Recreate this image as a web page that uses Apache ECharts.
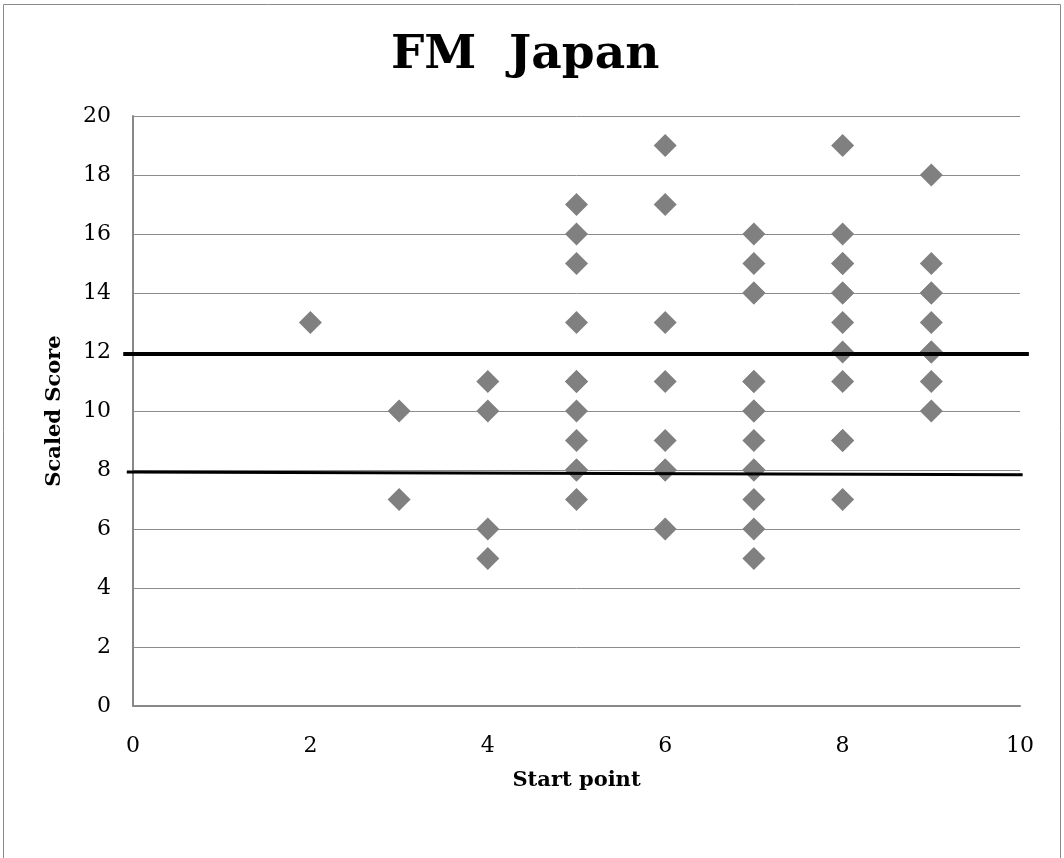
<!DOCTYPE html>
<html>
<head>
<meta charset="utf-8">
<script src="https://cdn.jsdelivr.net/npm/echarts@6/dist/echarts.min.js"></script>
<style>html,body{margin:0;padding:0;background:#fff}#c{width:1064px;height:858px}</style>
</head>
<body>
<div id="c"></div>
<script>
// Start point (x) and Scaled Score (y) for each observation
const startPoint = [2, 3,3, 4,4,4,4, 5,5,5,5,5,5,5,5,5,5,5, 6,6,6,6,6,6,6,6, 7,7,7,7,7,7,7,7,7,7,7,7,7,7, 8,8,8,8,8,8,8,8,8,8,8,8, 9,9,9,9,9,9,9,9,9];
const scaledScore = [13, 10,7, 11,10,6,5, 17,16,15,13,11,11,10,9,8,8,7, 19,17,13,11,9,8,8,6, 16,15,14,14,11,11,10,10,9,8,8,7,6,5, 19,16,15,15,14,14,13,12,11,9,9,7, 18,15,14,14,13,12,12,11,10];
// Reference lines (drawn shapes in the original)
const upperLineX = [-0.11, 10.1];
const upperLineY = [11.93, 11.93];
const lowerLineX = [-0.07, 10.03];
const lowerLineY = [7.93, 7.84];
const xTicks = {min: 0, max: 10, interval: 2};
const yTicks = {min: 0, max: 20, interval: 2};

const FONT = '"DejaVu Serif", serif';
function segment(xs, ys, width) {
  return {
    type: 'custom', clip: false, z: 4, silent: true,
    data: [[xs[0], ys[0], xs[1], ys[1]]],
    renderItem: function (params, api) {
      const p1 = api.coord([api.value(0), api.value(1)]);
      const p2 = api.coord([api.value(2), api.value(3)]);
      return {type: 'line', shape: {x1: p1[0], y1: p1[1], x2: p2[0], y2: p2[1]},
              style: {stroke: '#000', lineWidth: width}};
    }
  };
}
const chart = echarts.init(document.getElementById('c'), null, {renderer: 'canvas'});
chart.setOption({
  animation: false,
  backgroundColor: '#fff',
  graphic: [{type: 'rect', shape: {x: 3.5, y: 4.5, width: 1057, height: 900}, style: {fill: 'none', stroke: '#8a8a8a', lineWidth: 1}, silent: true}],
  title: {text: 'FM  Japan', left: 386, top: 27, textStyle: {fontFamily: FONT, fontWeight: 'bold', fontSize: 47, color: '#000'}},
  grid: {left: 133, right: 44, top: 116, bottom: 152},
  xAxis: {
    type: 'value', min: xTicks.min, max: xTicks.max, interval: xTicks.interval,
    name: 'Start point', nameLocation: 'middle', nameGap: 64,
    nameTextStyle: {fontFamily: FONT, fontWeight: 'bold', fontSize: 21, color: '#000'},
    axisLine: {show: true, lineStyle: {color: '#888', width: 2}},
    axisTick: {show: false},
    axisLabel: {fontFamily: FONT, fontSize: 22, color: '#000', margin: 29},
    splitLine: {show: false}
  },
  yAxis: {
    type: 'value', min: yTicks.min, max: yTicks.max, interval: yTicks.interval,
    name: 'Scaled Score', nameLocation: 'middle', nameGap: 68, nameRotate: 90,
    nameTextStyle: {fontFamily: FONT, fontWeight: 'bold', fontSize: 21, color: '#000'},
    axisLine: {show: true, lineStyle: {color: '#888', width: 2}},
    axisTick: {show: false},
    axisLabel: {fontFamily: FONT, fontSize: 22, color: '#000', margin: 22},
    splitLine: {show: true, lineStyle: {color: '#8c8c8c', width: 1}}
  },
  series: [
    {type: 'scatter', symbol: 'diamond', symbolSize: 23, itemStyle: {color: '#808080', opacity: 1},
     data: startPoint.map((x, i) => [x, scaledScore[i]]), z: 3},
    segment(upperLineX, upperLineY, 4),
    segment(lowerLineX, lowerLineY, 3)
  ]
});
</script>
</body>
</html>
